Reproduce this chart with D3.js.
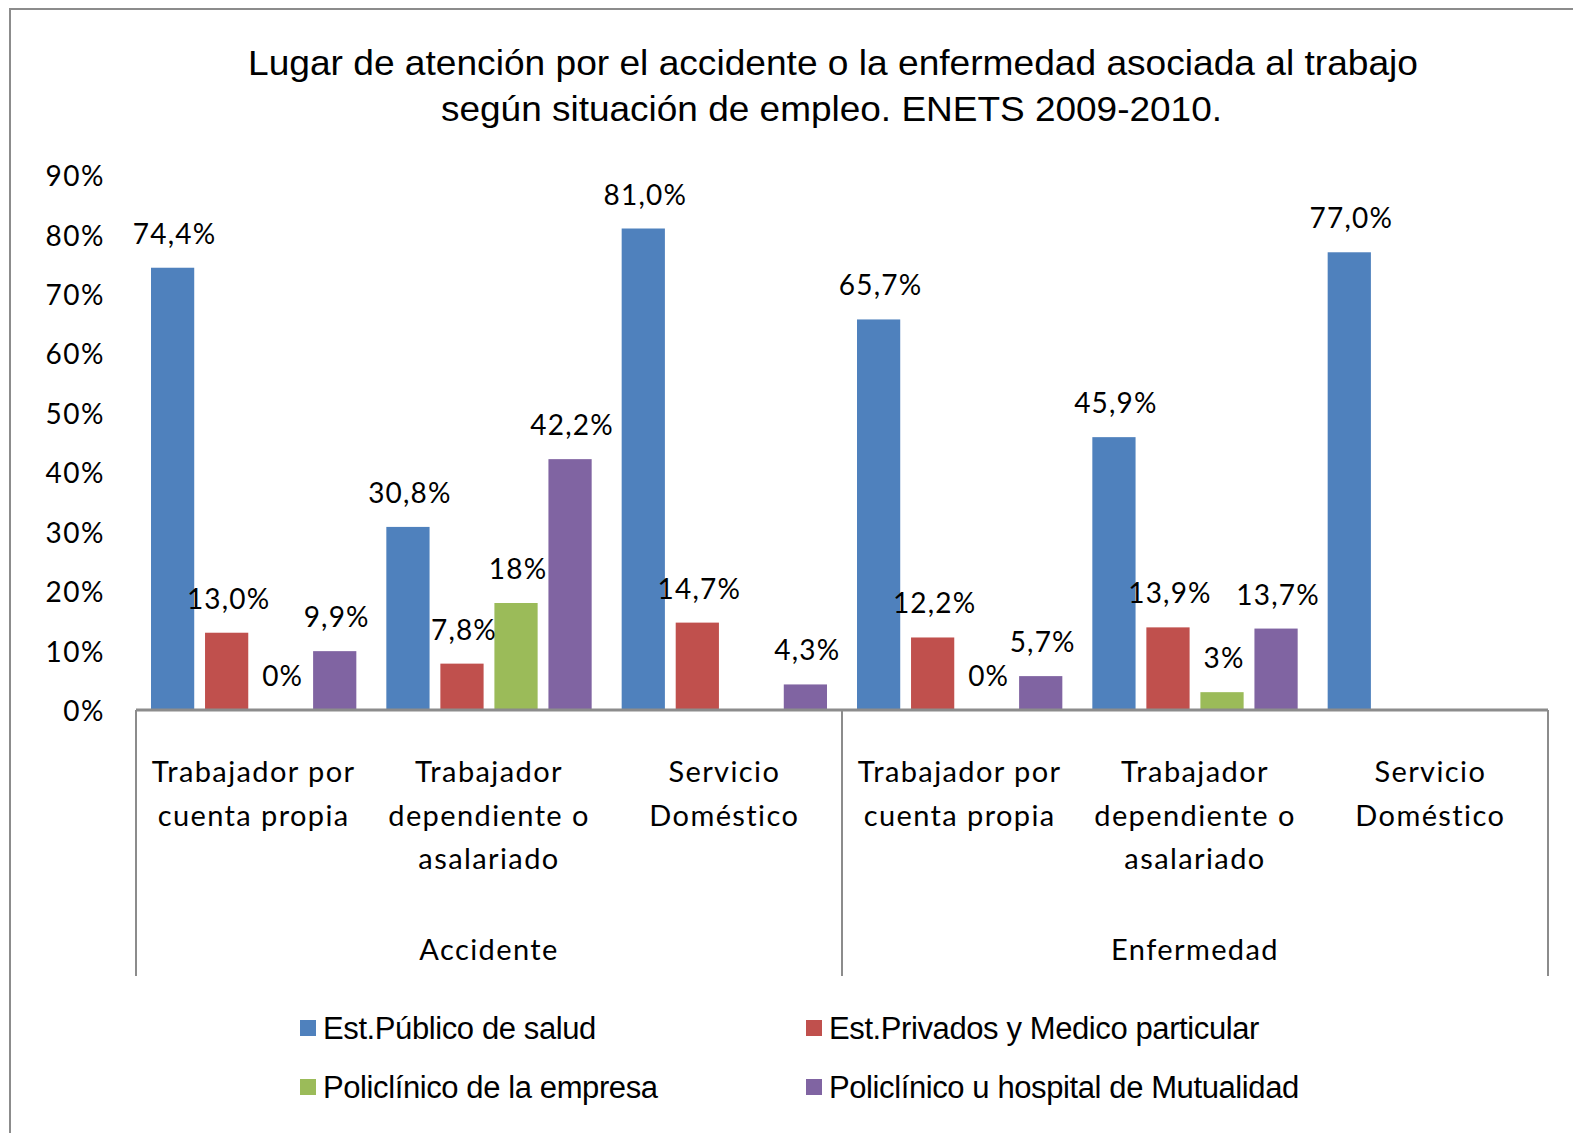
<!DOCTYPE html>
<html>
<head>
<meta charset="utf-8">
<script src="https://cdn.jsdelivr.net/npm/d3@7"></script>
<style>
	body { margin: 0; background: #fff; }
	text { fill: #000; }
</style>
</head>
<body>
<svg width="1573" height="1133"></svg>
<script>
// categories and series
const groups = ["Accidente", "Enfermedad"];
const situaciones = [["Trabajador por", "cuenta propia"], ["Trabajador", "dependiente o", "asalariado"], ["Servicio", "Doméstico"]];
const series = ["Est.Público de salud", "Est.Privados y Medico particular", "Policlínico de la empresa", "Policlínico u hospital de Mutualidad"];
const colors = ["#4F81BD", "#C0504D", "#9BBB59", "#8064A2"];

// values per series, in order: Accidente x3, Enfermedad x3 (null = no bar/label)
const publico   = [74.4, 30.8, 81.0, 65.7, 45.9, 77.0];
const privados  = [13.0, 7.8, 14.7, 12.2, 13.9, null];
const empresa   = [0, 18, null, 0, 3, null];
const mutualidad = [9.9, 42.2, 4.3, 5.7, 13.7, null];

const publicoLbl   = ["74,4%", "30,8%", "81,0%", "65,7%", "45,9%", "77,0%"];
const privadosLbl  = ["13,0%", "7,8%", "14,7%", "12,2%", "13,9%", null];
const empresaLbl   = ["0%", "18%", null, "0%", "3%", null];
const mutualidadLbl = ["9,9%", "42,2%", "4,3%", "5,7%", "13,7%", null];

const yTicks = [0, 10, 20, 30, 40, 50, 60, 70, 80, 90];

const svg = d3.select("svg");
const margin = { top: 175, left: 136, right: 25, bottom: 423 };
const width = +svg.attr("width");
const height = +svg.attr("height");
const axisY = height - margin.bottom;  // 710
const lato = "Lato, 'Open Sans', sans-serif";

// chart frame
svg.append("rect")
	.attr("x", 10).attr("y", 9)
	.attr("width", 1600).attr("height", 1200)
	.attr("fill", "none").attr("stroke", "#8c8c8c").attr("stroke-width", 2);

// title (stretched a bit, like the original)
svg.append("text")
	.attr("x", 248).attr("y", 75)
	.attr("textLength", 1170).attr("lengthAdjust", "spacingAndGlyphs")
	.style("font-family", "'Liberation Sans', Arial, sans-serif")
	.style("font-size", "35px")
	.text("Lugar de atención por el accidente o la enfermedad asociada al trabajo");
svg.append("text")
	.attr("x", 441).attr("y", 121)
	.attr("textLength", 781).attr("lengthAdjust", "spacingAndGlyphs")
	.style("font-family", "'Liberation Sans', Arial, sans-serif")
	.style("font-size", "35px")
	.text("según situación de empleo. ENETS 2009-2010.");

// scales
const cats = d3.range(6);
const x0 = d3.scaleBand()
	.domain(cats)
	.range([margin.left, width - margin.right]);

const x1 = d3.scaleBand()
	.domain(d3.range(4))
	.range([15, x0.bandwidth() - 15])
	.paddingInner(0.2);

const yScale = d3.scaleLinear()
	.domain([0, 90])
	.range([axisY, margin.top]);

// y tick labels (no axis line shown)
const yAxis = d3.axisLeft(yScale)
	.tickValues(yTicks)
	.tickSize(0)
	.tickPadding(31)
	.tickFormat(d => d + "%");

const yg = svg.append("g")
	.attr("transform", `translate(${margin.left},0)`)
	.call(yAxis);
yg.select(".domain").remove();
yg.selectAll("text")
	.style("font-family", lato)
	.style("font-size", "28px")
	.style("letter-spacing", "1.5px")
	.attr("dy", "0.38em");

// bars
const values = [publico, privados, empresa, mutualidad];
const labels = [publicoLbl, privadosLbl, empresaLbl, mutualidadLbl];
const barData = [];
values.forEach((arr, s) => arr.forEach((v, c) => {
	barData.push({ s: s, c: c, v: v, lbl: labels[s][c] });
}));

svg.append("g").selectAll("rect")
	.data(barData.filter(d => d.v !== null && d.v > 0))
	.enter()
	.append("rect")
	.attr("x", d => x0(d.c) + x1(d.s))
	.attr("y", d => yScale(d.v))
	.attr("width", x1.bandwidth())
	.attr("height", d => axisY - yScale(d.v))
	.attr("fill", d => colors[d.s]);

// value labels
svg.append("g").selectAll("text")
	.data(barData.filter(d => d.lbl !== null))
	.enter()
	.append("text")
	.attr("x", d => x0(d.c) + x1(d.s) + x1.bandwidth() / 2 + 2)
	.attr("y", d => yScale(d.v) - 24)
	.attr("text-anchor", "middle")
	.style("font-family", lato)
	.style("font-size", "28px")
	.style("letter-spacing", "1.2px")
	.text(d => d.lbl);

// x axis line and separators
const axisColor = "#8c8c8c";
svg.append("line")
	.attr("x1", margin.left).attr("x2", width - margin.right)
	.attr("y1", axisY).attr("y2", axisY)
	.attr("stroke", axisColor).attr("stroke-width", 3);

const sepX = [0, 3, 6].map(i => i < 6 ? x0(i) : x0(5) + x0.bandwidth());
svg.append("g").selectAll("line")
	.data(sepX)
	.enter()
	.append("line")
	.attr("x1", d => d).attr("x2", d => d)
	.attr("y1", axisY).attr("y2", 976)
	.attr("stroke", axisColor).attr("stroke-width", 2);

// category labels
cats.forEach(c => {
	const lines = situaciones[c % 3];
	const t = svg.append("text")
		.attr("text-anchor", "middle")
		.style("font-family", lato)
		.style("font-size", "29px")
		.style("letter-spacing", "1.4px");
	lines.forEach((ln, i) => {
		t.append("tspan")
			.attr("x", x0(c) + x0.bandwidth() / 2)
			.attr("y", 782 + i * 43.5)
			.text(ln);
	});
});

// group labels
groups.forEach((g, i) => {
	svg.append("text")
		.attr("x", (x0(i * 3) + x0(i * 3 + 2) + x0.bandwidth()) / 2)
		.attr("y", 960)
		.attr("text-anchor", "middle")
		.style("font-family", lato)
		.style("font-size", "29px")
		.style("letter-spacing", "1.4px")
		.text(g);
});

// legend
const legX = [300, 806];
const legY = [1028, 1087];
series.forEach((s, i) => {
	const lx = legX[i % 2];
	const ly = legY[Math.floor(i / 2)];
	svg.append("rect")
		.attr("x", lx).attr("y", ly - 8)
		.attr("width", 16).attr("height", 16)
		.attr("fill", colors[i]);
	svg.append("text")
		.attr("x", lx + 23).attr("y", ly + 11)
		.style("font-family", "'Liberation Sans', Arial, sans-serif")
		.style("font-size", "31px")
		.style("letter-spacing", "-0.4px")
		.text(s);
});
</script>
</body>
</html>
